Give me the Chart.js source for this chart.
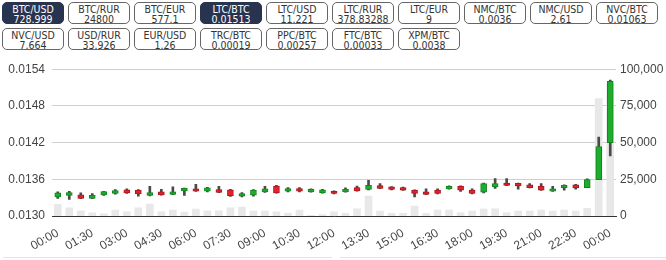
<!DOCTYPE html>
<html>
<head>
<meta charset="utf-8">
<script src="https://cdn.jsdelivr.net/npm/chart.js@4/dist/chart.umd.min.js"></script>
<style>
  body { margin: 0; background: #fff; width: 666px; height: 260px; overflow: hidden; position: relative; }
  #pairs { position: absolute; left: 0; top: 2px; width: 666px; }
  .pair {
    display: inline-block; box-sizing: border-box; width: 62px; height: 22px;
    margin: 0 2px 4px 2px; border: 1px solid #666; border-radius: 5px;
    font: 10.5px Tahoma, "DejaVu Sans Condensed", "DejaVu Sans", sans-serif;
    line-height: 10px; padding-top: 1px; text-align: center; color: #333; vertical-align: top;
  }
  .pair.active { background: #283350; border-color: #283350; color: #fff; }
  #wrap { position: absolute; left: 0; top: 55px; width: 666px; height: 202px; }
  .box { position: absolute; top: 257px; height: 10px; border-top: 1px solid #e4e4e4; }
</style>
</head>
<body>
<div id="pairs"></div>
<div id="wrap"><canvas id="chart"></canvas></div>
<div class="box" style="left:3px;width:329px"></div>
<div class="box" style="left:340px;width:326px"></div>
<script>
const pairNames = ["BTC/USD","BTC/RUR","BTC/EUR","LTC/BTC","LTC/USD","LTC/RUR","LTC/EUR","NMC/BTC","NMC/USD","NVC/BTC",
                   "NVC/USD","USD/RUR","EUR/USD","TRC/BTC","PPC/BTC","FTC/BTC","XPM/BTC"];
const pairPrices = ["728.999","24800","577.1","0.01513","11.221","378.83288","9","0.0036","2.61","0.01063",
                    "7.664","33.926","1.26","0.00019","0.00257","0.00033","0.0038"];
const activePairs = ["BTC/USD","LTC/BTC"];

const times = ["00:00","00:30","01:00","01:30","02:00","02:30","03:00","03:30","04:00","04:30",
               "05:00","05:30","06:00","06:30","07:00","07:30","08:00","08:30","09:00","09:30",
               "10:00","10:30","11:00","11:30","12:00","12:30","13:00","13:30","14:00","14:30",
               "15:00","15:30","16:00","16:30","17:00","17:30","18:00","18:30","19:00","19:30",
               "20:00","20:30","21:00","21:30","22:00","22:30","23:00","23:30","00:00"];

const opens  = [0.013313,0.013336,0.013345,0.013287,0.013345,0.013368,0.013426,0.013422,0.013336,0.013394,
                0.013352,0.013410,0.013443,0.013405,0.013433,0.013426,0.013324,0.013341,0.013394,0.013491,
                0.013405,0.013449,0.013394,0.013378,0.013405,0.013394,0.013465,0.013433,0.013498,0.013475,
                0.013465,0.013422,0.013394,0.013422,0.013443,0.013486,0.013422,0.013389,0.013475,0.013540,
                0.013535,0.013508,0.013486,0.013405,0.013465,0.013508,0.013465,0.013595,0.014200];
const highs  = [0.013394,0.013405,0.013378,0.013368,0.013405,0.013430,0.013443,0.013430,0.013486,0.013438,
                0.013475,0.013458,0.013519,0.013470,0.013486,0.013435,0.013384,0.013433,0.013486,0.013502,
                0.013465,0.013465,0.013445,0.013438,0.013412,0.013459,0.013491,0.013584,0.013530,0.013482,
                0.013472,0.013428,0.013443,0.013443,0.013494,0.013494,0.013443,0.013540,0.013611,0.013611,
                0.013540,0.013530,0.013530,0.013486,0.013508,0.013519,0.013608,0.014289,0.015222];
const lows   = [0.013287,0.013271,0.013285,0.013285,0.013337,0.013357,0.013368,0.013324,0.013330,0.013340,
                0.013348,0.013336,0.013400,0.013395,0.013380,0.013322,0.013313,0.013324,0.013384,0.013373,
                0.013394,0.013394,0.013390,0.013375,0.013362,0.013390,0.013405,0.013428,0.013445,0.013428,
                0.013418,0.013313,0.013348,0.013362,0.013438,0.013400,0.013362,0.013378,0.013449,0.013494,
                0.013438,0.013460,0.013418,0.013400,0.013422,0.013438,0.013462,0.013592,0.013981];
const closes = [0.013378,0.013384,0.013287,0.013336,0.013400,0.013417,0.013378,0.013362,0.013384,0.013345,
                0.013394,0.013454,0.013405,0.013459,0.013384,0.013329,0.013368,0.013422,0.013443,0.013378,
                0.013449,0.013405,0.013438,0.013426,0.013368,0.013438,0.013410,0.013503,0.013449,0.013433,
                0.013422,0.013368,0.013352,0.013368,0.013486,0.013422,0.013368,0.013530,0.013530,0.013498,
                0.013491,0.013465,0.013422,0.013443,0.013503,0.013459,0.013595,0.014135,0.015201];
const volumes = [7900,5600,3600,2200,1400,4000,2900,5600,8100,2900,
                 4000,2700,4700,3600,3600,5600,6100,3400,3400,2900,
                 1800,4000,500,1000,2900,1800,4900,13500,3400,1800,
                 1800,6800,1800,4000,4000,2200,3400,4700,4900,2200,
                 3400,3400,4000,3400,4000,3400,5200,80000,90000];

const priceTicks = [0.0130, 0.0136, 0.0142, 0.0148, 0.0154];
const volumeTicks = [0, 25000, 50000, 75000, 100000];

// ticker buttons
const pairsDiv = document.getElementById("pairs");
pairNames.forEach((name, i) => {
    const d = document.createElement("div");
    d.className = "pair" + (activePairs.includes(name) ? " active" : "");
    d.innerHTML = name + "<br>" + pairPrices[i];
    pairsDiv.appendChild(d);
});

const up = times.map((t, i) => closes[i] >= opens[i]);
const bodyColors = up.map(u => u ? "#1cad2c" : "#e2232b");
const bodyBorders = up.map(u => u ? "#11861f" : "#b0161c");

const tickFont = { family: "Arial, 'Liberation Sans', sans-serif", size: 12 };

new Chart(document.getElementById("chart"), {
    type: "bar",
    data: {
        labels: times,
        datasets: [
            {
                label: "Bodies",
                data: times.map((t, i) => [Math.min(opens[i], closes[i]), Math.max(opens[i], closes[i])]),
                backgroundColor: bodyColors,
                borderColor: bodyBorders,
                borderWidth: 1,
                borderSkipped: false,
                barThickness: 6,
                grouped: false,
                yAxisID: "y",
                order: 1
            },
            {
                label: "Wicks",
                data: times.map((t, i) => [lows[i], highs[i]]),
                backgroundColor: "#4a4a4a",
                barThickness: 2,
                grouped: false,
                yAxisID: "y",
                order: 2
            },
            {
                label: "Volume",
                data: volumes,
                backgroundColor: "#e8e8e8",
                barThickness: 7,
                grouped: false,
                yAxisID: "yv",
                order: 3
            }
        ]
    },
    options: {
        responsive: true,
        maintainAspectRatio: false,
        animation: false,
        layout: { padding: { top: 12, left: 0, right: 0, bottom: 0 } },
        plugins: { legend: { display: false }, tooltip: { enabled: false } },
        scales: {
            x: {
                offset: true,
                grid: { display: false },
                border: { display: true, color: "#333", width: 1 },
                ticks: {
                    autoSkip: false,
                    minRotation: 30,
                    maxRotation: 30,
                    color: "#444",
                    font: tickFont,
                    padding: 2,
                    callback: function (val, idx) { return idx % 3 === 0 ? times[idx] : ""; }
                },
                afterFit: (scale) => { scale.height = 41; }
            },
            y: {
                position: "left",
                min: 0.0130,
                max: 0.0154,
                afterBuildTicks: (scale) => { scale.ticks = priceTicks.map(v => ({ value: v })); },
                grid: { color: "#cfcfcf", drawTicks: false },
                border: { display: false },
                ticks: {
                    color: "#444",
                    font: tickFont,
                    padding: 7,
                    callback: (v) => v.toFixed(4)
                },
                afterFit: (scale) => { scale.width = 52; }
            },
            yv: {
                position: "right",
                min: 0,
                max: 100000,
                afterBuildTicks: (scale) => { scale.ticks = volumeTicks.map(v => ({ value: v })); },
                grid: { display: false, drawTicks: false },
                border: { display: false },
                ticks: {
                    color: "#444",
                    font: tickFont,
                    padding: 4,
                    callback: (v) => v.toLocaleString("en-US")
                },
                afterFit: (scale) => { scale.width = 50; }
            }
        }
    }
});
</script>
</body>
</html>
